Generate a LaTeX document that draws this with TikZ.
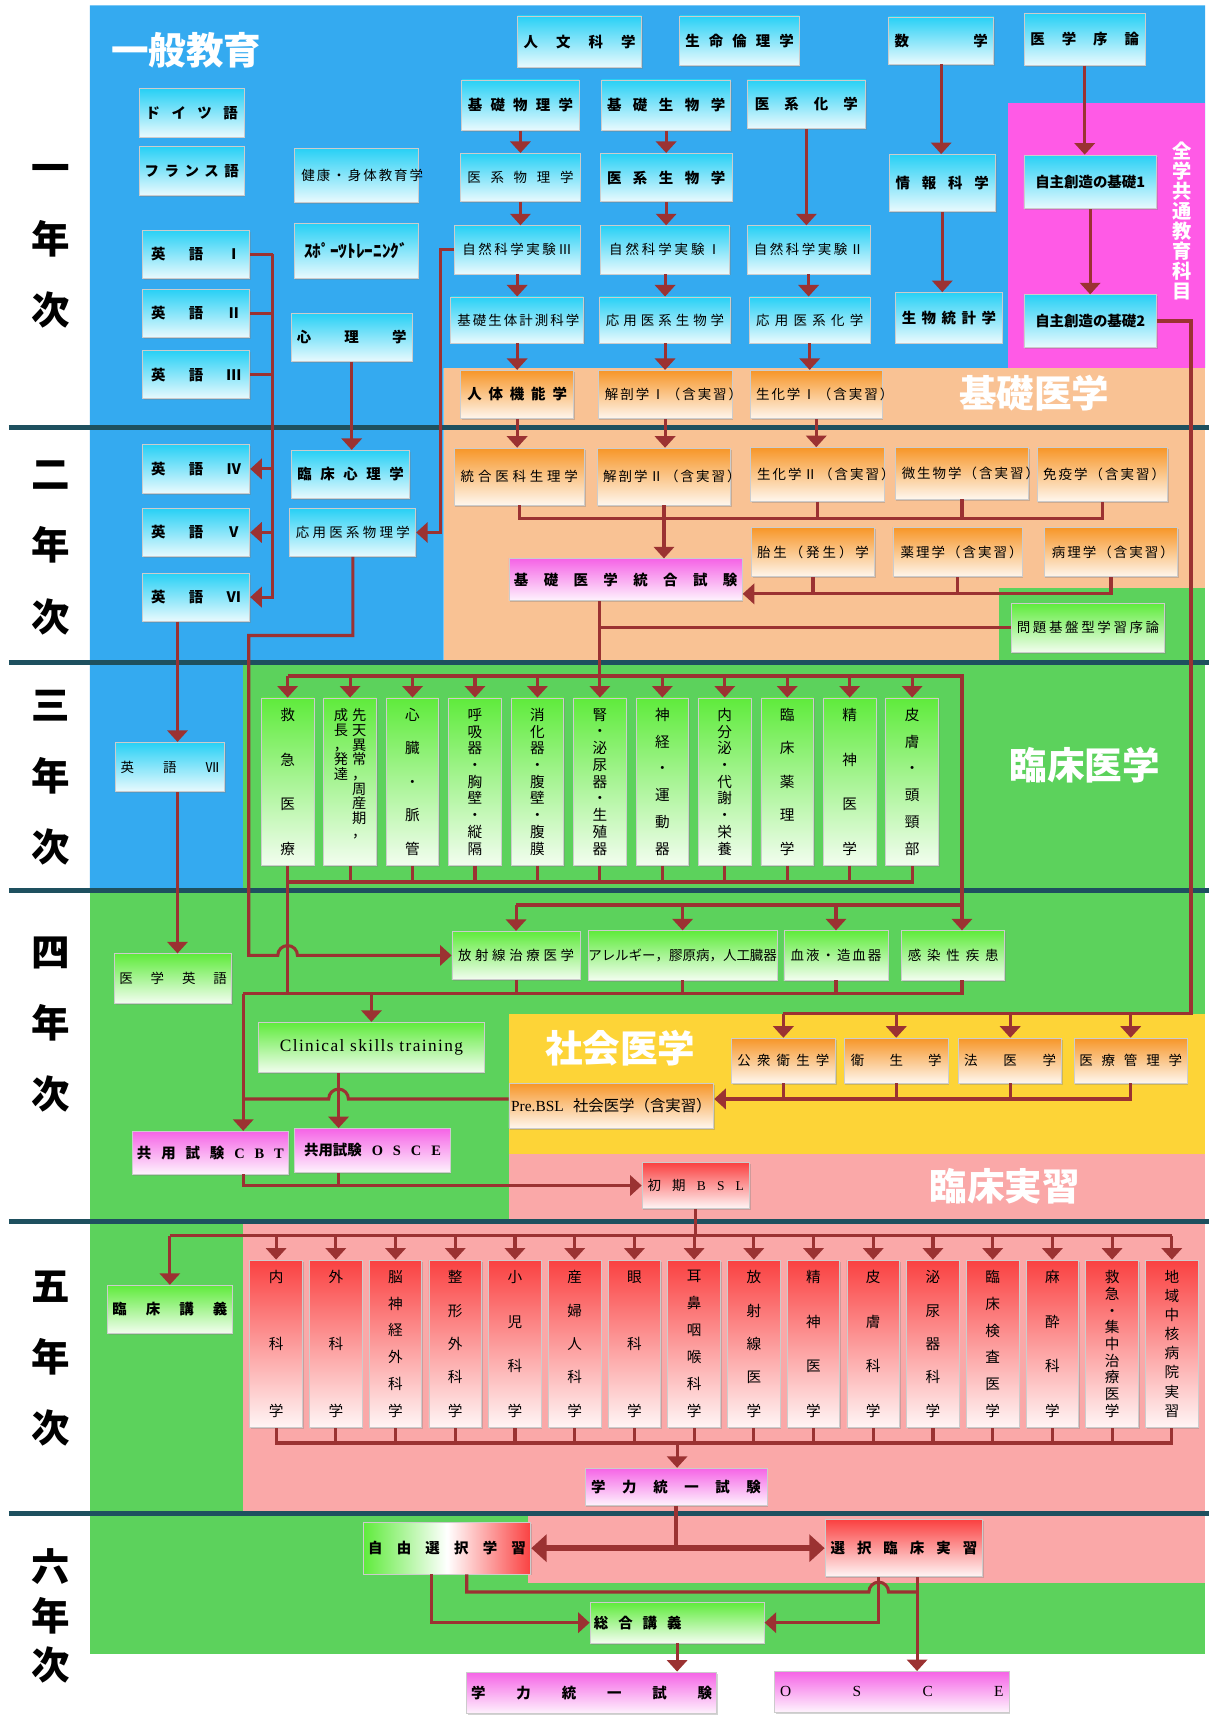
\documentclass[tikz,border=0pt]{standalone}
\usepackage{fontspec}
\setmainfont{Noto Sans CJK JP}
\newfontfamily\lat{Liberation Serif}
\newfontfamily\latsp[LetterSpace=8]{Liberation Serif}
\usetikzlibrary{arrows.meta,calc,shadows}

\definecolor{bgblue}{RGB}{52,170,240}
\definecolor{bgorange}{RGB}{249,194,148}
\definecolor{bgmag}{RGB}{255,90,230}
\definecolor{bggreen}{RGB}{92,210,92}
\definecolor{bgyellow}{RGB}{253,212,55}
\definecolor{bgpink}{RGB}{250,168,168}
\definecolor{divline}{RGB}{30,80,95}
\definecolor{lred}{RGB}{155,50,50}
\definecolor{kcyan}{RGB}{40,208,245}
\definecolor{korange}{RGB}{247,150,40}
\definecolor{kgreen}{RGB}{95,235,60}
\definecolor{kpink}{RGB}{245,100,230}
\definecolor{kred}{RGB}{250,65,65}

\newcommand{\sprd}[2]{\makebox[#1cm][s]{#2}}
\newcommand{\tsep}{\par\vfill}
\newcommand{\tate}[1]{\parbox[c][2.66cm][s]{1.3em}{\centering #1}}

\begin{document}
\begin{tikzpicture}[x=0.02cm, y=-0.02cm,
kasten/.style={draw=black!20, line width=0.4pt, inner sep=0pt, font=\fontsize{7}{8}\selectfont, drop shadow={shadow xshift=0.6pt, shadow yshift=-0.8pt, opacity=0.35}},
sz/.style 2 args={minimum width=#1*0.02cm, minimum height=#2*0.02cm},
ao/.style={kasten, top color=kcyan, bottom color=white!90!kcyan},
dai/.style={kasten, top color=korange, bottom color=white!92!korange},
midori/.style={kasten, top color=kgreen, bottom color=white!92!kgreen},
momo/.style={kasten, top color=kpink, bottom color=white!92!kpink},
aka/.style={kasten, top color=kred, bottom color=white!95!kred},
futo/.style={font=\fontsize{7.5}{9}\selectfont\bfseries},
tatebox/.style={sz={48}{153}, font=\fontsize{7.6}{8.5}\selectfont},
ln/.style={draw=lred, line width=1.6pt},
arr/.style={ln, -{Triangle[length=6pt,width=10.5pt]}},
arr2/.style={draw=lred, line width=3pt, {Triangle[length=8pt,width=14pt]}-{Triangle[length=8pt,width=14pt]}},
daimoku/.style={text=white, font=\fontsize{19.5}{22}\selectfont\bfseries},
nenji/.style={font=\fontsize{20}{37}\selectfont\bfseries, align=center},
tband/.style={line width=2.6pt, draw=divline}
]
\useasboundingbox (0,0) rectangle (1103,1568);

\fill[bgblue] (82,5) -- (1100,5) -- (1100,336) -- (405,336) -- (405,605) -- (222,605) -- (222,813) -- (82,813) -- cycle;
\fill[bgmag] (920,94) rectangle (1100,336);
\fill[bgorange] (405,336) rectangle (1100,605);
\fill[bggreen] (912,537) rectangle (1100,605);
\fill[bggreen] (222,605) rectangle (1100,813);
\fill[bggreen] (82,813) rectangle (1100,1115);
\fill[bgyellow] (465,925) rectangle (1100,1053);
\fill[bgpink] (465,1053) rectangle (1100,1115);
\fill[bggreen] (82,1115) rectangle (222,1381);
\fill[bgpink] (222,1115) rectangle (1100,1381);
\fill[bggreen] (82,1381) rectangle (1100,1510);
\fill[bgpink] (482,1381) rectangle (1100,1445);
\draw[tband] (8,390) -- (1103,390);
\draw[tband] (8,605) -- (1103,605);
\draw[tband] (8,813) -- (1103,813);
\draw[tband] (8,1115) -- (1103,1115);
\draw[tband] (8,1381) -- (1103,1381);

\node[nenji] (nen1) at (46,225) {一\\年\\次};
\node[nenji] (nen2) at (46,500) {二\\年\\次};
\node[nenji] (nen3) at (46,710) {三\\年\\次};
\node[nenji] (nen4) at (46,935) {四\\年\\次};
\node[nenji] (nen5) at (46,1240) {五\\年\\次};
\node[nenji, font=\fontsize{20}{25.5}\selectfont\bfseries] (nen6) at (46,1475) {六\\年\\次};

\node[daimoku] (ippan) at (170,46) {一般教育};
\node[daimoku] (kisoigaku) at (944,359) {基礎医学};
\node[daimoku] (rinshoigaku) at (990,698) {臨床医学};
\node[daimoku] (shakaiigaku) at (566,957) {社会医学};
\node[daimoku] (rinshojisshu) at (917,1083) {臨床実習};
\node[text=white, font=\fontsize{10}{10.4}\selectfont\bfseries, align=center] (zengaku) at (1079,202) {全\\学\\共\\通\\教\\育\\科\\目};

\node[ao, futo, sz={96}{44}] (doitsu) at (175,103) {\sprd{1.68}{ド イ ツ 語}};
\node[ao, futo, sz={96}{44}] (furansu) at (175,156) {\sprd{1.72}{フ ラ ン ス 語}};
\node[ao, futo, sz={98}{44}] (eigo1) at (179,232) {\sprd{1.64}{英 語 Ⅰ}};
\node[ao, futo, sz={98}{44}] (eigo2) at (179,286) {\sprd{1.64}{英 語 Ⅱ}};
\node[ao, futo, sz={98}{44}] (eigo3) at (179,342) {\sprd{1.64}{英 語 Ⅲ}};
\node[ao, sz={113}{49}] (kenko) at (325,160) {\sprd{2.0}{健 康 ・ 身 体 教 育 学}};
\node[ao, sz={113}{50}, font=\fontsize{9}{10}\selectfont\bfseries] (sports) at (325,229) {ｽﾎﾟｰﾂﾄﾚｰﾆﾝｸﾞ};
\node[ao, futo, sz={110}{44}] (shinri) at (321,308) {\sprd{2.0}{心 理 学}};
\node[ao, futo, sz={113}{47}] (jinbun) at (529,38) {\sprd{2.04}{人 文 科 学}};
\node[ao, futo, sz={109}{45}] (seimei) at (675,37) {\sprd{1.98}{生 命 倫 理 学}};
\node[ao, futo, sz={96}{43}] (sugaku) at (859,37) {\sprd{1.7}{数 学}};
\node[ao, futo, sz={110}{47}] (joron) at (990,36) {\sprd{1.98}{医 学 序 論}};
\node[ao, futo, sz={107}{46}] (kisobutsuri) at (475,96) {\sprd{1.92}{基 礎 物 理 学}};
\node[ao, futo, sz={118}{46}] (kisoseibutsu) at (608,96) {\sprd{2.16}{基 礎 生 物 学}};
\node[ao, futo, sz={108}{44}] (ikeikagaku) at (736,95) {\sprd{1.88}{医 系 化 学}};
\node[ao, sz={109}{44}] (ikeibutsuri) at (475,162) {\sprd{1.94}{医 系 物 理 学}};
\node[ao, futo, sz={120}{44}] (ikeiseibutsu) at (608,162) {\sprd{2.16}{医 系 生 物 学}};
\node[ao, sz={115}{44}] (jikken3) at (472,228) {\sprd{2.0}{自 然 科 学 実 験 Ⅲ}};
\node[ao, sz={118}{44}] (jikken1) at (607,228) {\sprd{2.04}{自 然 科 学 実 験 Ⅰ}};
\node[ao, sz={112}{44}] (jikken2) at (738,228) {\sprd{2.0}{自 然 科 学 実 験 Ⅱ}};
\node[ao, sz={121}{42}] (keisoku) at (472,292) {\sprd{2.18}{基 礎 生 体 計 測 科 学}};
\node[ao, sz={120}{42}] (oyoseibutsu) at (607,292) {\sprd{2.16}{応 用 医 系 生 物 学}};
\node[ao, sz={110}{42}] (oyokagaku) at (739,292) {\sprd{1.96}{応 用 医 系 化 学}};
\node[ao, futo, sz={97}{52}] (joho) at (860,167) {\sprd{1.7}{情 報 科 学}};
\node[ao, futo, sz={97}{46}] (tokei) at (866,290) {\sprd{1.72}{生 物 統 計 学}};
\node[ao, futo, sz={121}{49}] (jishu1) at (995,166) {自主創造の基礎1};
\node[ao, futo, sz={121}{48}] (jishu2) at (995,293) {自主創造の基礎2};
\node[dai, futo, sz={103}{44}] (jintai) at (472,360) {\sprd{1.82}{人 体 機 能 学}};
\node[dai, sz={122}{44}] (kaibo1) at (607,360) {\sprd{2.2}{解 剖 学 Ⅰ （ 含 実 習 ）}};
\node[dai, sz={120}{44}] (seika1) at (745,360) {\sprd{2.2}{生 化 学 Ⅰ （ 含 実 習 ）}};

\node[ao, futo, sz={98}{44}] (eigo4) at (179,428) {\sprd{1.64}{英 語 Ⅳ}};
\node[ao, futo, sz={98}{44}] (eigo5) at (179,486) {\sprd{1.64}{英 語 Ⅴ}};
\node[ao, futo, sz={98}{44}] (eigo6) at (179,545) {\sprd{1.64}{英 語 Ⅵ}};
\node[ao, futo, sz={108}{44}] (rinshoshinri) at (320,433) {\sprd{1.94}{臨 床 心 理 学}};
\node[ao, sz={115}{44}] (oyobutsuri) at (322,486) {\sprd{2.08}{応 用 医 系 物 理 学}};
\node[dai, sz={119}{52}] (togo) at (474,435) {\sprd{2.14}{統 合 医 科 生 理 学}};
\node[dai, sz={122}{52}] (kaibo2) at (606,435) {\sprd{2.22}{解 剖 学 Ⅱ （ 含 実 習 ）}};
\node[dai, sz={122}{49}] (seika2) at (746,433) {\sprd{2.2}{生 化 学 Ⅱ （ 含 実 習 ）}};
\node[dai, sz={122}{47}] (biseibutsu) at (878,432) {\sprd{2.2}{微 生 物 学 （ 含 実 習 ）}};
\node[dai, sz={119}{49}] (meneki) at (1006,433) {\sprd{2.16}{免 疫 学 （ 含 実 習 ）}};
\node[dai, sz={112}{45}] (taisei) at (742,504) {\sprd{2.04}{胎 生 （ 発 生 ） 学}};
\node[dai, sz={118}{45}] (yakuri) at (874,504) {\sprd{2.08}{薬 理 学 （ 含 実 習 ）}};
\node[dai, sz={122}{45}] (byori) at (1014,504) {\sprd{2.16}{病 理 学 （ 含 実 習 ）}};
\node[momo, futo, sz={213}{38}] (kisoshiken) at (571,529) {\sprd{4.08}{基 礎 医 学 統 合 試 験}};
\node[midori, sz={140}{45}] (pbl) at (993,573) {\sprd{2.6}{問 題 基 盤 型 学 習 序 論}};

\node[ao, sz={100}{45}] (eigo7) at (155,700) {\sprd{1.8}{英 語 Ⅶ}};
\node[midori, tatebox] (kyukyu) at (262.5,713.5) {\tate{救\tsep 急\tsep 医\tsep 療}};
\node[midori, tatebox] (sentan) at (319.5,713.5) {\parbox[c][2.66cm][t]{1.25em}{\fontsize{7.4}{7.6}\selectfont\centering 成\\長\\，\\発\\達}\parbox[c][2.66cm][t]{1.25em}{\fontsize{7.4}{7.6}\selectfont\centering 先\\天\\異\\常\\，\\周\\産\\期\\，}};
\node[midori, tatebox] (shinzo) at (376.5,713.5) {\tate{心\tsep 臓\tsep ・\tsep 脈\tsep 管}};
\node[midori, tatebox] (kokyu) at (433.5,713.5) {\tate{呼\tsep 吸\tsep 器\tsep ・\tsep 胸\tsep 壁\tsep ・\tsep 縦\tsep 隔}};
\node[midori, tatebox] (shoka) at (490.5,713.5) {\tate{消\tsep 化\tsep 器\tsep ・\tsep 腹\tsep 壁\tsep ・\tsep 腹\tsep 膜}};
\node[midori, tatebox] (jin) at (547.5,713.5) {\tate{腎\tsep ・\tsep 泌\tsep 尿\tsep 器\tsep ・\tsep 生\tsep 殖\tsep 器}};
\node[midori, tatebox] (shinkei) at (604.5,713.5) {\tate{神\tsep 経\tsep ・\tsep 運\tsep 動\tsep 器}};
\node[midori, tatebox] (naibunpi) at (661.5,713.5) {\tate{内\tsep 分\tsep 泌\tsep ・\tsep 代\tsep 謝\tsep ・\tsep 栄\tsep 養}};
\node[midori, tatebox] (rinyaku) at (718.5,713.5) {\tate{臨\tsep 床\tsep 薬\tsep 理\tsep 学}};
\node[midori, tatebox] (seishin3) at (775.5,713.5) {\tate{精\tsep 神\tsep 医\tsep 学}};
\node[midori, tatebox] (hifu3) at (832.5,713.5) {\tate{皮\tsep 膚\tsep ・\tsep 頭\tsep 頸\tsep 部}};

\node[midori, sz={107}{45}] (igakueigo) at (158,893) {\sprd{1.96}{医 学 英 語}};
\node[midori, sz={117}{44}] (hoshasen) at (471,872) {\sprd{2.12}{放 射 線 治 療 医 学}};
\node[midori, sz={167}{45}] (allergy) at (623,872) {アレルギー，膠原病，人工臓器};
\node[midori, sz={95}{45}] (ketsueki) at (763,872) {\sprd{1.66}{血 液 ・ 造 血 器}};
\node[midori, sz={94}{45}] (kansen) at (870,872) {\sprd{1.66}{感 染 性 疾 患}};
\node[midori, sz={206}{46}, font=\fontsize{9}{10}\selectfont] (clinical) at (339,956) {\latsp Clinical skills training};
\node[momo, futo, sz={143}{39}] (cbt) at (192,1052) {\sprd{2.68}{共 用 試 験 {\lat C} {\lat B} {\lat T}}};
\node[momo, futo, sz={142}{40}] (osce) at (340,1050) {\sprd{2.5}{共用試験 {\lat O} {\lat S} {\lat C} {\lat E}}};
\node[dai, sz={95}{41}] (koshu) at (715,968) {\sprd{1.68}{公 衆 衛 生 学}};
\node[dai, sz={95}{41}] (eisei) at (818,968) {\sprd{1.66}{衛 生 学}};
\node[dai, sz={94}{41}] (hoi) at (922,968) {\sprd{1.68}{法 医 学}};
\node[dai, sz={103}{41}] (kanri) at (1032,968) {\sprd{1.88}{医 療 管 理 学}};
\node[dai, sz={187}{41}, font=\fontsize{8}{9}\selectfont] (prebsl) at (558,1009) {{\lat Pre.BSL}\hspace{0.6em}社会医学（含実習）};
\node[aka, sz={98}{42}] (shokibsl) at (635,1082) {\sprd{1.76}{初 期 {\lat B} {\lat S} {\lat L}}};

\node[midori, futo, sz={114}{44}] (rinshokogi) at (155,1195) {\sprd{2.1}{臨 床 講 義}};
\node[aka, tatebox] (naika) at (252,1226.5) {\tate{内\tsep 科\tsep 学}};
\node[aka, tatebox] (geka) at (306.5,1226.5) {\tate{外\tsep 科\tsep 学}};
\node[aka, tatebox] (noshinkei) at (361,1226.5) {\tate{脳\tsep 神\tsep 経\tsep 外\tsep 科\tsep 学}};
\node[aka, tatebox] (seikei) at (415.5,1226.5) {\tate{整\tsep 形\tsep 外\tsep 科\tsep 学}};
\node[aka, tatebox] (shoni) at (470,1226.5) {\tate{小\tsep 児\tsep 科\tsep 学}};
\node[aka, tatebox] (sanfujin) at (524.5,1226.5) {\tate{産\tsep 婦\tsep 人\tsep 科\tsep 学}};
\node[aka, tatebox] (ganka) at (579,1226.5) {\tate{眼\tsep 科\tsep 学}};
\node[aka, tatebox] (jibi) at (633.5,1226.5) {\tate{耳\tsep 鼻\tsep 咽\tsep 喉\tsep 科\tsep 学}};
\node[aka, tatebox] (hoshasen5) at (688,1226.5) {\tate{放\tsep 射\tsep 線\tsep 医\tsep 学}};
\node[aka, tatebox] (seishin5) at (742.5,1226.5) {\tate{精\tsep 神\tsep 医\tsep 学}};
\node[aka, tatebox] (hifu5) at (797,1226.5) {\tate{皮\tsep 膚\tsep 科\tsep 学}};
\node[aka, tatebox] (hinyoki) at (851.5,1226.5) {\tate{泌\tsep 尿\tsep 器\tsep 科\tsep 学}};
\node[aka, tatebox] (kensa) at (906,1226.5) {\tate{臨\tsep 床\tsep 検\tsep 査\tsep 医\tsep 学}};
\node[aka, tatebox] (masui) at (960.5,1226.5) {\tate{麻\tsep 酔\tsep 科\tsep 学}};
\node[aka, tatebox] (kyuchu) at (1015,1226.5) {\tate{救\tsep 急\tsep ・\tsep 集\tsep 中\tsep 治\tsep 療\tsep 医\tsep 学}};
\node[aka, tatebox] (chiiki) at (1069.5,1226.5) {\tate{地\tsep 域\tsep 中\tsep 核\tsep 病\tsep 院\tsep 実\tsep 習}};
\node[momo, futo, sz={166}{34}] (gakuryoku1) at (617,1357) {\sprd{3.1}{学 力 統 一 試 験}};

\node[kasten, futo, sz={153}{47}, left color=kgreen, right color=kred, middle color=white] (jiyu) at (408,1413) {\sprd{2.88}{自 由 選 択 学 習}};
\node[aka, futo, sz={144}{52}] (sentaku) at (825,1413) {\sprd{2.68}{選 択 臨 床 実 習}};
\node[midori, futo, sz={159}{37}] (sogo) at (618,1481) {\makebox[3.04cm][l]{\sprd{1.6}{総 合 講 義}}};
\node[momo, futo, sz={228}{38}] (gakuryoku2) at (540,1545) {\sprd{4.4}{学 力 統 一 試 験}};
\node[momo, sz={214}{37}, font=\fontsize{8}{9}\selectfont] (osce2) at (814,1544) {\sprd{4.08}{\lat O S C E}};

\draw[arr] (kisobutsuri.south) -- (kisobutsuri.south |- ikeibutsuri.north);
\draw[arr] (ikeibutsuri.south) -- (ikeibutsuri.south |- jikken3.north);
\draw[arr] (jikken3.south) -- (jikken3.south |- keisoku.north);
\draw[arr] (keisoku.south) -- (keisoku.south |- jintai.north);
\draw[arr] (kisoseibutsu.south) -- (kisoseibutsu.south |- ikeiseibutsu.north);
\draw[arr] (ikeiseibutsu.south) -- (ikeiseibutsu.south |- jikken1.north);
\draw[arr] (jikken1.south) -- (jikken1.south |- oyoseibutsu.north);
\draw[arr] (oyoseibutsu.south) -- (oyoseibutsu.south |- kaibo1.north);
\draw[arr] (ikeikagaku.south) -- (ikeikagaku.south |- jikken2.north);
\draw[arr] (jikken2.south) -- (jikken2.south |- oyokagaku.north);
\draw[arr] (oyokagaku.south) -- (oyokagaku.south |- seika1.north);
\draw[arr] (sugaku.south) -- (sugaku.south |- joho.north);
\draw[arr] (joho.south) -- (joho.south |- tokei.north);
\draw[arr] (joron.south) -- (joron.south |- jishu1.north);
\draw[arr] (jishu1.south) -- (jishu1.south |- jishu2.north);
\draw[arr] (shinri.south) -- (shinri.south |- rinshoshinri.north);
\draw[arr] (jintai.south) -- (jintai.south |- togo.north);
\draw[arr] (kaibo1.south) -- (kaibo1.south |- kaibo2.north);
\draw[arr] (seika1.south) -- (seika1.south |- seika2.north);

\coordinate (ebrk) at (249,232);
\draw[ln] (eigo1.east) -- (ebrk);
\draw[ln] (eigo2.east) -- (eigo2.east -| ebrk);
\draw[ln] (eigo3.east) -- (eigo3.east -| ebrk);
\draw[arr] (ebrk) |- (eigo6.east);
\draw[arr] (eigo4.east -| ebrk) -- (eigo4.east);
\draw[arr] (eigo5.east -| ebrk) -- (eigo5.east);
\draw[arr] (jikken3.west) -- ++(-12,0) |- (oyobutsuri.east);

\coordinate (shakai) at (1087,925);
\draw[ln] (jishu2.east) -| (shakai) -- (shakai -| koshu.north);
\draw[arr] (shakai -| koshu.north) -- (koshu.north);
\draw[arr] (shakai -| eisei.north) -- (eisei.north);
\draw[arr] (shakai -| hoi.north) -- (hoi.north);
\draw[arr] (shakai -| kanri.north) -- (kanri.north);

\coordinate (kb2) at (600,473);
\draw[ln] (togo.south) |- (kb2) -| (meneki.south);
\draw[ln] (seika2.south) -- (seika2.south |- kb2);
\draw[ln] (biseibutsu.south) -- (biseibutsu.south |- kb2);
\draw[arr] (kaibo2.south) -- (kaibo2.south |- kisoshiken.north);
\coordinate (kb3) at (740,542);
\draw[arr] (byori.south) |- (kb3 -| kisoshiken.east);
\draw[ln] (taisei.south) -- (taisei.south |- kb3);
\draw[ln] (yakuri.south) -- (yakuri.south |- kb3);
\coordinate (k3top) at (547,617);
\draw[ln] (pbl.west) -- (pbl.west -| k3top);
\draw[ln] (k3top |- kisoshiken.south) -- (k3top);

\coordinate (c4top) at (878,826);
\draw[ln] (kyukyu.north |- k3top) -- (k3top -| c4top) -- (c4top) -- (c4top -| hoshasen.north);
\draw[arr] (kyukyu.north |- k3top) -- (kyukyu.north);
\draw[arr] (sentan.north |- k3top) -- (sentan.north);
\draw[arr] (shinzo.north |- k3top) -- (shinzo.north);
\draw[arr] (kokyu.north |- k3top) -- (kokyu.north);
\draw[arr] (shoka.north |- k3top) -- (shoka.north);
\draw[arr] (jin.north |- k3top) -- (jin.north);
\draw[arr] (shinkei.north |- k3top) -- (shinkei.north);
\draw[arr] (naibunpi.north |- k3top) -- (naibunpi.north);
\draw[arr] (rinyaku.north |- k3top) -- (rinyaku.north);
\draw[arr] (seishin3.north |- k3top) -- (seishin3.north);
\draw[arr] (hifu3.north |- k3top) -- (hifu3.north);
\draw[arr] (c4top -| hoshasen.north) -- (hoshasen.north);
\draw[arr] (c4top -| allergy.north) -- (allergy.north);
\draw[arr] (c4top -| ketsueki.north) -- (ketsueki.north);
\draw[arr] (c4top) -- (c4top |- kansen.north);

\coordinate (c3bot) at (262.5,805);
\draw[ln] (kyukyu.south) -- (c3bot) -- (c3bot -| hifu3.south) -- (hifu3.south);
\draw[ln] (sentan.south) -- (sentan.south |- c3bot);
\draw[ln] (shinzo.south) -- (shinzo.south |- c3bot);
\draw[ln] (kokyu.south) -- (kokyu.south |- c3bot);
\draw[ln] (shoka.south) -- (shoka.south |- c3bot);
\draw[ln] (jin.south) -- (jin.south |- c3bot);
\draw[ln] (shinkei.south) -- (shinkei.south |- c3bot);
\draw[ln] (naibunpi.south) -- (naibunpi.south |- c3bot);
\draw[ln] (rinyaku.south) -- (rinyaku.south |- c3bot);
\draw[ln] (seishin3.south) -- (seishin3.south |- c3bot);

\coordinate (c4bot) at (878,907);
\coordinate (cbtl) at (222,907);
\draw[ln] (c3bot) -- (c3bot |- c4bot);
\draw[ln] (c4bot |- kansen.south) -- (c4bot) -- (cbtl);
\draw[ln] (hoshasen.south) -- (hoshasen.south |- c4bot);
\draw[ln] (allergy.south) -- (allergy.south |- c4bot);
\draw[ln] (ketsueki.south) -- (ketsueki.south |- c4bot);
\draw[arr] (c4bot -| clinical.north) -- (clinical.north);

\coordinate (obl) at (227,580);
\draw[arr] (oyobutsuri.south) |- (obl) -- (obl |- hoshasen.west) -- ($(c3bot |- hoshasen.west)+(-9,0)$) arc[start angle=180, end angle=360, radius=9] -- (hoshasen.west);

\coordinate (e7x) at (162,0);
\draw[arr] (e7x |- eigo6.south) -- (e7x |- eigo7.north);
\draw[arr] (e7x |- eigo7.south) -- (e7x |- igakueigo.north);

\coordinate (oscx) at (309,0);
\coordinate (sbrk) at (715,1003);
\draw[arr] (oscx |- clinical.south) -- (oscx |- osce.north);
\draw[arr] (kanri.south) |- (sbrk -| prebsl.east);
\draw[ln] (koshu.south) -- (koshu.south |- sbrk);
\draw[ln] (eisei.south) -- (eisei.south |- sbrk);
\draw[ln] (hoi.south) -- (hoi.south |- sbrk);
\draw[ln] (sbrk -| prebsl.west) -- ($(sbrk -| oscx)+(9,0)$) arc[start angle=360, end angle=180, radius=9] -- (sbrk -| cbtl);
\draw[arr] (cbtl) -- (cbtl |- cbt.north);
\draw[arr] (cbtl |- cbt.south) |- (shokibsl.west);
\draw[ln] (oscx |- osce.south) -- (oscx |- shokibsl.west);

\coordinate (r5top) at (635,1128);
\draw[ln] (shokibsl.south) -- (shokibsl.south |- r5top);
\draw[ln] (r5top -| rinshokogi.north) -- (r5top -| chiiki.north);
\draw[arr] (r5top -| rinshokogi.north) -- (rinshokogi.north);
\draw[arr] (r5top -| naika.north) -- (naika.north);
\draw[arr] (r5top -| geka.north) -- (geka.north);
\draw[arr] (r5top -| noshinkei.north) -- (noshinkei.north);
\draw[arr] (r5top -| seikei.north) -- (seikei.north);
\draw[arr] (r5top -| shoni.north) -- (shoni.north);
\draw[arr] (r5top -| sanfujin.north) -- (sanfujin.north);
\draw[arr] (r5top -| ganka.north) -- (ganka.north);
\draw[arr] (r5top -| jibi.north) -- (jibi.north);
\draw[arr] (r5top -| hoshasen5.north) -- (hoshasen5.north);
\draw[arr] (r5top -| seishin5.north) -- (seishin5.north);
\draw[arr] (r5top -| hifu5.north) -- (hifu5.north);
\draw[arr] (r5top -| hinyoki.north) -- (hinyoki.north);
\draw[arr] (r5top -| kensa.north) -- (kensa.north);
\draw[arr] (r5top -| masui.north) -- (masui.north);
\draw[arr] (r5top -| kyuchu.north) -- (kyuchu.north);
\draw[arr] (r5top -| chiiki.north) -- (chiiki.north);

\coordinate (r5bot) at (618,1317);
\draw[ln] (naika.south) |- (r5bot) -| (chiiki.south);
\draw[ln] (geka.south) -- (geka.south |- r5bot);
\draw[ln] (noshinkei.south) -- (noshinkei.south |- r5bot);
\draw[ln] (seikei.south) -- (seikei.south |- r5bot);
\draw[ln] (shoni.south) -- (shoni.south |- r5bot);
\draw[ln] (sanfujin.south) -- (sanfujin.south |- r5bot);
\draw[ln] (ganka.south) -- (ganka.south |- r5bot);
\draw[ln] (jibi.south) -- (jibi.south |- r5bot);
\draw[ln] (hoshasen5.south) -- (hoshasen5.south |- r5bot);
\draw[ln] (seishin5.south) -- (seishin5.south |- r5bot);
\draw[ln] (hifu5.south) -- (hifu5.south |- r5bot);
\draw[ln] (hinyoki.south) -- (hinyoki.south |- r5bot);
\draw[ln] (kensa.south) -- (kensa.south |- r5bot);
\draw[ln] (masui.south) -- (masui.south |- r5bot);
\draw[ln] (kyuchu.south) -- (kyuchu.south |- r5bot);
\draw[arr] (r5bot) -- (r5bot |- gakuryoku1.north);

\draw[ln] (gakuryoku1.south) -- (gakuryoku1.south |- jiyu.east);
\draw[arr2] (jiyu.east) -- (sentaku.west);
\coordinate (j1) at (394,1481);
\coordinate (j2) at (426,1453);
\coordinate (s1) at (802,1481);
\coordinate (s2) at (837,1453);
\draw[arr] (j1 |- jiyu.south) |- (sogo.west);
\draw[arr] (s1 |- sentaku.south) |- (sogo.east);
\draw[ln] (j2 |- jiyu.south) -- (j2) -- ($(j2 -| s1)+(-9,0)$) arc[start angle=180, end angle=360, radius=9] -- (j2 -| s2);
\draw[arr] (s2 |- sentaku.south) -- (s2 |- osce2.north);
\draw[arr] (sogo.south) -- (sogo.south |- gakuryoku2.north);
\end{tikzpicture}
\end{document}
